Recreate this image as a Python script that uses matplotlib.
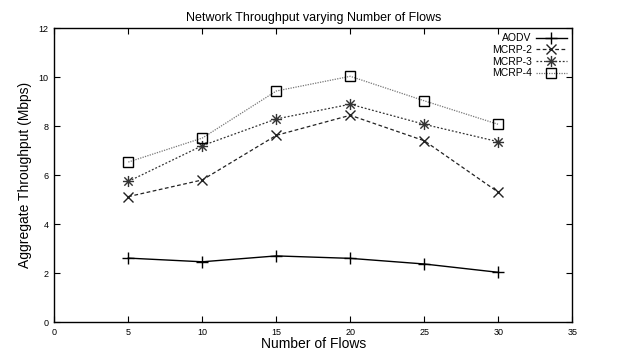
import matplotlib
matplotlib.use("Agg")
import matplotlib.pyplot as plt
from matplotlib.path import Path

plt.rcParams['font.family'] = ['Liberation Sans', 'DejaVu Sans']

flows = [5, 10, 15, 20, 25, 30]
aodv = [2.62, 2.47, 2.71, 2.61, 2.38, 2.04]
mcrp2 = [5.13, 5.81, 7.63, 8.45, 7.41, 5.31]
mcrp3 = [5.75, 7.21, 8.30, 8.90, 8.08, 7.37]
mcrp4 = [6.54, 7.52, 9.44, 10.04, 9.04, 8.08]
labels = ["AODV", "MCRP-2", "MCRP-3", "MCRP-4"]
xticks = [0, 5, 10, 15, 20, 25, 30, 35]
yticks = [0, 2, 4, 6, 8, 10, 12]

# star marker: plus + x
star = Path([(-1, 0), (1, 0), (0, -1), (0, 1), (-0.75, -0.75), (0.75, 0.75), (-0.75, 0.75), (0.75, -0.75)],
            [Path.MOVETO, Path.LINETO] * 4)

fig = plt.figure(figsize=(6.17, 3.58), dpi=100)
ax = fig.add_axes([0.088, 0.0997, 0.8395, 0.8213])

ax.plot(flows, aodv, color='black', lw=1.0, ls='-', marker='+', ms=8, mew=1.0, label=labels[0])
ax.plot(flows, mcrp2, color='#222222', lw=0.9, ls=(0, (3, 2)), marker='x', ms=7, mew=1.0, label=labels[1])
ax.plot(flows, mcrp3, color='#333333', lw=0.9, ls=(0, (1.5, 1.5)), marker=star, ms=8, mew=1.0, label=labels[2])
ax.plot(flows, mcrp4, color='#777777', lw=0.9, ls=(0, (1, 1)), marker='s', ms=7, mew=1.0,
        mfc='none', mec='black', label=labels[3])

ax.set_xlim(0, 35)
ax.set_ylim(0, 12)
ax.set_xticks(xticks)
ax.set_yticks(yticks)
ax.tick_params(direction='in', top=True, right=True, length=4, width=0.8, labelsize=6.5, pad=4)
for s in ax.spines.values():
    s.set_linewidth(1.0)

ax.set_xlabel("Number of Flows", fontsize=10, labelpad=0)
ax.set_ylabel("Aggregate Throughput (Mbps)", fontsize=10, labelpad=5)
ax.set_title("Network Throughput varying Number of Flows", fontsize=9, pad=5)

leg = ax.legend(loc='upper right', frameon=False, markerfirst=False, fontsize=7.5,
                handlelength=3.0, handletextpad=0.4, labelspacing=0.15,
                borderaxespad=0.3, borderpad=0.2)
for t in leg.get_texts():
    t.set_ha('right')

fig.savefig("out.png", dpi=100)
